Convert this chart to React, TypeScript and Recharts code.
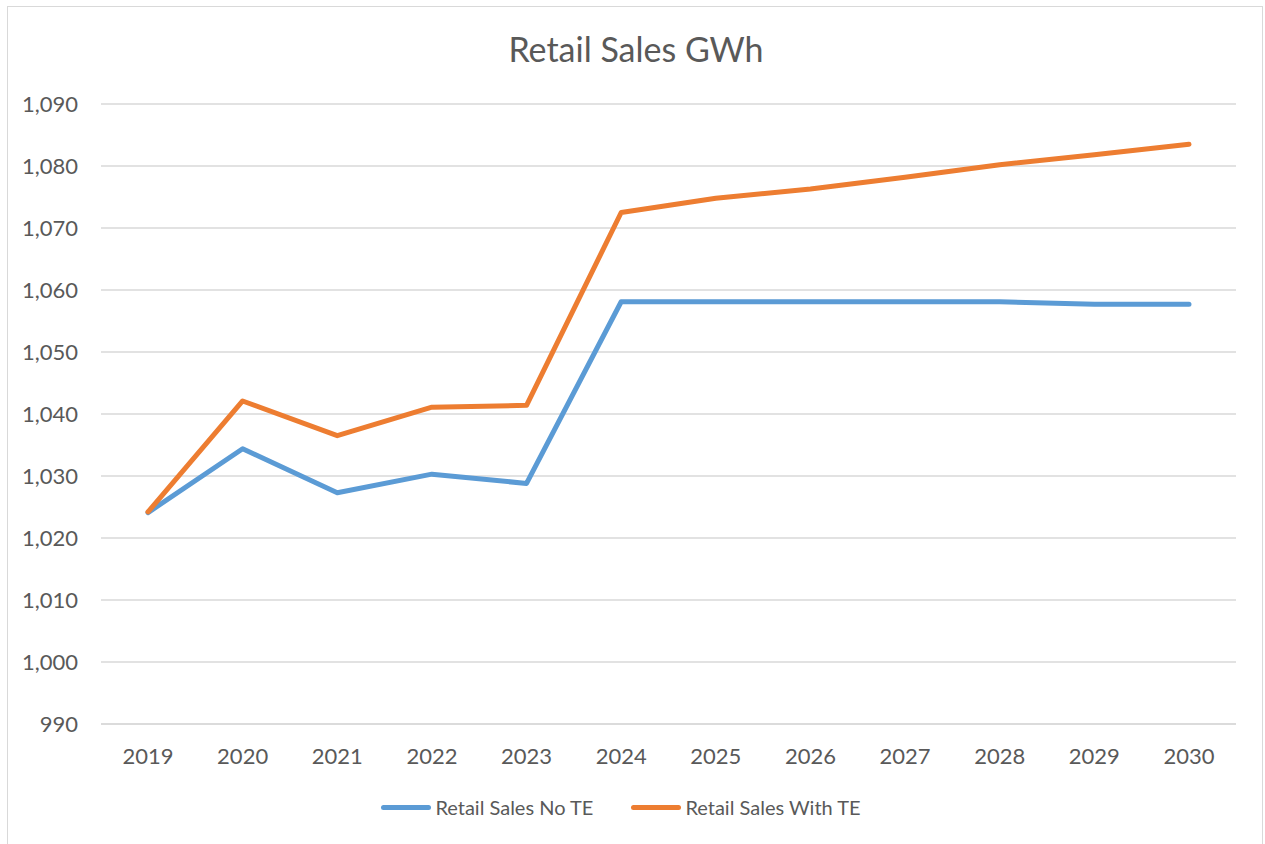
import React from "react";
import {
  LineChart,
  Line,
  XAxis,
  YAxis,
  CartesianGrid,
} from "recharts";

// ---------------------------------------------------------------------------
// Data
// ---------------------------------------------------------------------------

const YEARS = [
  "2019", "2020", "2021", "2022", "2023", "2024",
  "2025", "2026", "2027", "2028", "2029", "2030",
];

const SALES_NO_TE = [
  1024.1, 1034.4, 1027.3, 1030.3, 1028.8, 1058.1,
  1058.1, 1058.1, 1058.1, 1058.1, 1057.7, 1057.7,
];

const SALES_WITH_TE = [
  1024.2, 1042.1, 1036.5, 1041.1, 1041.4, 1072.5,
  1074.8, 1076.3, 1078.2, 1080.2, 1081.8, 1083.5,
];

const Y_TICKS = [990, 1000, 1010, 1020, 1030, 1040, 1050, 1060, 1070, 1080, 1090];

const SERIES = [
  { key: "noTE", name: "Retail Sales No TE", color: "#5B9BD5" },
  { key: "withTE", name: "Retail Sales With TE", color: "#ED7D31" },
];

const chartData = YEARS.map((year, i) => ({
  year,
  noTE: SALES_NO_TE[i],
  withTE: SALES_WITH_TE[i],
}));

// ---------------------------------------------------------------------------
// Styles
// ---------------------------------------------------------------------------

const FONT = "Lato, 'Open Sans', sans-serif";
const TEXT = "#595959";
const GRID = "#d9d9d9";

const styles = {
  frame: {
    position: "absolute" as const,
    left: 0,
    top: 0,
    width: 1265,
    height: 844,
    background: "#fff",
    fontFamily: FONT,
  } as React.CSSProperties,

  border: {
    position: "absolute" as const,
    left: 7,
    top: 6,
    width: 1256,
    height: 850,
    border: `1.5px solid ${GRID}`,
    boxSizing: "border-box" as const,
  } as React.CSSProperties,

  title: {
    position: "absolute" as const,
    left: 0,
    width: 1272,
    top: 28,
    textAlign: "center" as const,
    fontSize: 34,
    color: TEXT,
  } as React.CSSProperties,

  legend: {
    position: "absolute" as const,
    top: 795,
    left: 0,
    width: 1242,
    display: "flex",
    justifyContent: "center",
    gap: 38,
    fontSize: 20,
    color: TEXT,
  } as React.CSSProperties,

  legendItem: {
    display: "flex",
    alignItems: "center",
  } as React.CSSProperties,
};

const formatTick = (v: number) => v.toLocaleString("en-US");

// ---------------------------------------------------------------------------
// Component
// ---------------------------------------------------------------------------

export default function App() {
  return (
    <div style={styles.frame}>
      <div style={styles.border} />
      <div style={styles.title}>Retail Sales GWh</div>
      <LineChart
        width={1265}
        height={844}
        data={chartData}
        margin={{ top: 104, right: 29, bottom: 90, left: 0 }}
        style={{ position: "absolute", left: 0, top: 0 }}
      >
        <CartesianGrid vertical={false} stroke={GRID} strokeWidth={1.5} />
        <XAxis
          dataKey="year"
          height={30}
          padding={{ left: 47, right: 47 }}
          axisLine={{ stroke: GRID, strokeWidth: 1.5 }}
          tickLine={false}
          tickMargin={18}
          tick={{ fill: TEXT, fontSize: 22, fontFamily: FONT }}
          interval={0}
        />
        <YAxis
          domain={[990, 1090]}
          ticks={Y_TICKS}
          width={101}
          axisLine={false}
          tickLine={false}
          tickMargin={17}
          tickFormatter={formatTick}
          tick={{ fill: TEXT, fontSize: 22, fontFamily: FONT }}
          allowDataOverflow
        />
        {SERIES.map((s) => (
          <Line
            key={s.key}
            type="linear"
            dataKey={s.key}
            name={s.name}
            stroke={s.color}
            strokeWidth={5}
            strokeLinecap="round"
            strokeLinejoin="round"
            dot={false}
            isAnimationActive={false}
          />
        ))}
      </LineChart>
      <div style={styles.legend}>
        {SERIES.map((s) => (
          <div key={s.key} style={styles.legendItem}>
            <span
              style={{
                display: "inline-block",
                width: 50,
                height: 5,
                borderRadius: 3,
                background: s.color,
                marginRight: 4,
              }}
            />
            {s.name}
          </div>
        ))}
      </div>
    </div>
  );
}
